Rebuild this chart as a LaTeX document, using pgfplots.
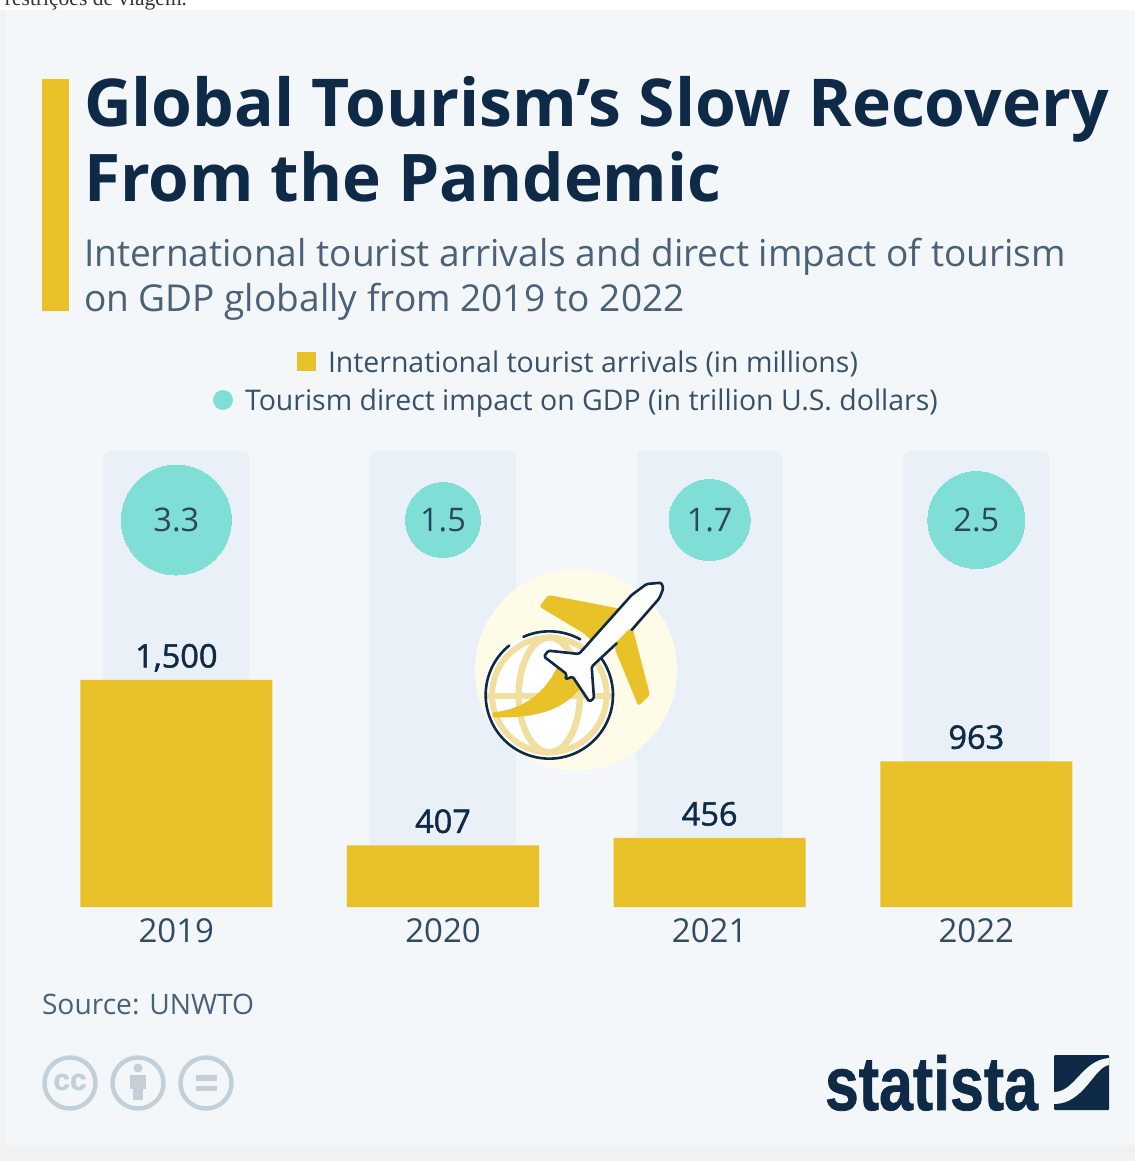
\documentclass[border=0pt]{standalone}
\usepackage{fontspec}
\setmainfont{Open Sans}
\newfontfamily\semi[FakeBold=1.5]{Open Sans}
\newfontfamily\serif{Liberation Serif}
\newfontfamily\logo[BoldFeatures={FakeBold=1.0}]{Liberation Sans}
\usepackage{pgfplots}
\pgfplotsset{compat=1.18}
\definecolor{cardbg}{HTML}{F3F7FA}
\definecolor{outer}{HTML}{F1F1F1}
\definecolor{navy}{HTML}{0F2A47}
\definecolor{slate}{HTML}{4A6178}
\definecolor{gold}{HTML}{E9C229}
\definecolor{teal}{HTML}{7FDFD6}
\definecolor{col}{HTML}{EAF0F7}
\definecolor{pale}{HTML}{FEFBE8}
\definecolor{ring}{HTML}{F1DF9F}
\definecolor{cc}{HTML}{C3D0DA}
\newcommand{\fs}[1]{\fontsize{#1}{#1}\selectfont}
\begin{document}
\begin{tikzpicture}[x=1pt,y=-1pt,every node/.style={inner sep=0pt,outer sep=0pt}]
\path[use as bounding box] (0,0) rectangle (1135,1161);
\fill[white] (0,0) rectangle (1135,1161);
\fill[outer] (0,10) rectangle (1135,1161);
\fill[cardbg] (5,10) rectangle (1135,1145);
\begin{scope}
\clip (0,0) rectangle (400,10);
\node[anchor=base west,text=black!80] at (5,6) {\serif\fs{21.5}restrições de viagem.};
\end{scope}
% title block
\fill[gold] (42,79) rectangle (69,311);
\node[anchor=base west,text=navy] at (84,127) {\fs{66}\bfseries Global Tourism’s Slow Recovery};
\node[anchor=base west,text=navy] at (84,201) {\fs{65.7}\bfseries From the Pandemic};
\node[anchor=base west,text=slate] at (84,266) {\fs{37.05}International tourist arrivals and direct impact of tourism};
\node[anchor=base west,text=slate] at (84,311) {\fs{37.05}on GDP globally from 2019 to 2022};
% legend
\fill[gold] (297,352) rectangle (316,371);
\node[anchor=base west,text=slate!70!navy] at (328,372) {\fs{28.45}International tourist arrivals (in millions)};
\fill[teal] (223,400) circle (10);
\node[anchor=base west,text=slate!70!navy] at (245,410) {\fs{28.45}Tourism direct impact on GDP (in trillion U.S. dollars)};
% chart
\begin{axis}[
  at={(43pt,-907pt)},anchor=south west,
  scale only axis,width=1066.67pt,height=456pt,
  xmin=-0.5,xmax=3.5,ymin=0,ymax=3013,
  clip=false,
  axis line style={draw=none},
  major tick length=0pt,
  xtick={0,1,2,3},xticklabels={2019,2020,2021,2022},
  ytick=\empty,
  /pgf/number format/assume math mode=true,
  xticklabel style={font=\fs{33},text=slate!60!navy,anchor=base,yshift=-35pt,inner sep=0pt},
]
% pale columns behind each year (decorative height)
\addplot[ybar,bar shift=0pt,bar width=146pt,fill=col,draw=none,rounded corners=7pt,forget plot]
  coordinates {(0,3013)(1,3013)(2,3013)(3,3013)};
% arrivals
\addplot[ybar,bar shift=0pt,bar width=192pt,fill=gold,draw=none,
  nodes near coords,
  point meta=y,
  /pgf/number format/1000 sep={,},
  /pgf/number format/fixed,
  /pgf/number format/precision=0,
  /pgfplots/every node near coord/.append style={font=\semi\fs{32.5},text=navy,anchor=base,yshift=12.5pt,inner sep=0pt},
  ] coordinates {(0,1500)(1,407)(2,456)(3,963)};
% GDP impact
\pgfplotsset{gdp/.style={only marks,mark=*,mark options={fill=teal,draw=teal,line width=0pt},point meta=explicit symbolic,
  nodes near coords,every node near coord/.append style={font=\fs{32.5},text=slate!50!navy,anchor=center,yshift=0pt,inner sep=0pt}}}
\addplot[gdp,mark size=55pt] coordinates {(0,2557)[3.3]};
\addplot[gdp,mark size=37.5pt] coordinates {(1,2557)[1.5]};
\addplot[gdp,mark size=40.5pt] coordinates {(2,2557)[1.7]};
\addplot[gdp,mark size=48.5pt] coordinates {(3,2557)[2.5]};
\end{axis}
% icon
\fill[pale] (576,670) circle (101);
\begin{scope}[shift={(460,560)},x=0.3333pt,y=-0.3333pt]
 % globe
 \fill[white] (268,405) circle (191);
 \begin{scope}
  \clip (268,405) circle (188);
  \draw[ring,line width=6.5pt] (268,405) ellipse (92 and 172);
  \draw[ring,line width=6.5pt] (78,408) -- (460,408);
  \draw[ring,line width=6pt] (268,405) circle (172);
 \end{scope}
 % wings
 \fill[gold,rounded corners=2.5pt] (238,140) -- (265,105) -- (500,150) -- (420,270) -- (375,222) -- cycle;
 \fill[gold,rounded corners=2.5pt] (470,220) -- (518,205) -- (570,405) -- (535,438) -- (465,268) -- cycle;
 \fill[gold] (98,457) .. controls (190,450) and (265,395) .. (300,300) -- (400,310)
   .. controls (360,410) and (300,478) .. (98,472) -- cycle;
 % globe outline with its gaps
 \draw[navy,line width=2.6pt,line cap=round] (268,405) ++(231:191) arc[start angle=231,delta angle=-271,radius=191];
 \draw[navy,line width=2.6pt,line cap=round] (268,405) ++(246:191) arc[start angle=246,delta angle=53,radius=191];
 % plane
 \fill[white,rounded corners=1.5pt] (395,320) -- (402,415) -- (388,425) -- (338,350) -- (316,358) -- (320,342) -- (252,290) -- (265,272) -- (357,282) -- (515,105) -- (560,72) -- (604,68) -- (610,85) -- (598,115) -- cycle;
 \draw[navy,line width=2.6pt,line cap=round,line join=round,rounded corners=1.5pt] (470,250) -- (395,320) -- (402,415) -- (388,425) -- (338,350) -- (316,358) -- (320,342) -- (252,290) -- (265,272) -- (357,282) -- (515,105) -- (560,72) -- (604,68) -- (610,85) -- (598,115) -- (515,210);
\end{scope}
% source
\node[anchor=base west,text=slate] at (42,1014) {\fs{28.2}Source: UNWTO};
% licence icons
\foreach \cx in {70,138,206} \draw[cc,line width=4.5pt] (\cx,1083) circle (25.5);
\node[text=cc] at (70,1082) {\logo\bfseries\fs{30}cc};
\fill[cc] (138,1068) circle (4.5);
\fill[cc] (130,1075) rectangle (146,1089);
\fill[cc] (133,1089) rectangle (143,1100);
\fill[cc] (196,1075) rectangle (217,1080.5);
\fill[cc] (196,1085.5) rectangle (217,1091);
% statista logo
\node[anchor=base west,text=navy,xscale=0.8] at (825,1110) {\logo\bfseries\fs{76}statista};
\fill[navy,rounded corners=1pt] (1054,1055) rectangle (1109,1110);
\fill[cardbg] (1054,1092) .. controls (1075,1092) and (1082,1060) .. (1109,1058) -- (1109,1065) .. controls (1094,1067) and (1084,1104) .. (1054,1104) -- cycle;
\end{tikzpicture}
\end{document}
